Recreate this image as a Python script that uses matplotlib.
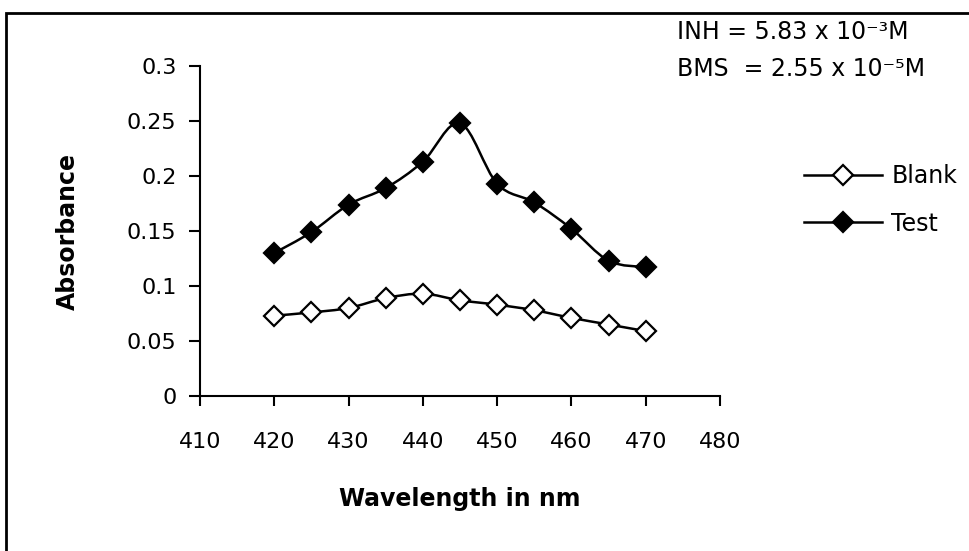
import numpy as np
import matplotlib
matplotlib.use('Agg')
import matplotlib.pyplot as plt
from matplotlib.path import Path
from matplotlib.patches import PathPatch, Rectangle
from matplotlib.lines import Line2D

# data
wavelength = [420, 425, 430, 435, 440, 445, 450, 455, 460, 465, 470]
blank = [0.073, 0.076, 0.080, 0.089, 0.093, 0.087, 0.083, 0.078, 0.071, 0.065, 0.059]
test = [0.130, 0.149, 0.174, 0.189, 0.213, 0.248, 0.193, 0.176, 0.152, 0.123, 0.117]
x_ticks = [410, 420, 430, 440, 450, 460, 470, 480]
y_ticks = [0, 0.05, 0.1, 0.15, 0.2, 0.25, 0.3]
y_labels = ['0', '0.05', '0.1', '0.15', '0.2', '0.25', '0.3']


def smooth_path(xs, ys, tension=1 / 6):
    # Excel-like smoothed line: cubic bezier through the points
    pts = np.column_stack([xs, ys]).astype(float)
    verts = [pts[0]]
    codes = [Path.MOVETO]
    n = len(pts)
    for i in range(n - 1):
        p0 = pts[i - 1] if i > 0 else pts[i]
        p1 = pts[i]
        p2 = pts[i + 1]
        p3 = pts[i + 2] if i + 2 < n else pts[i + 1]
        c1 = p1 + (p2 - p0) * tension
        c2 = p2 - (p3 - p1) * tension
        verts += [c1, c2, p2]
        codes += [Path.CURVE4] * 3
    return Path(verts, codes)


plt.rcParams['font.family'] = ['DejaVu Sans']
fig = plt.figure(figsize=(9.69, 5.51), dpi=100)
ax = fig.add_axes([200 / 969, 1 - 396 / 551, 520 / 969, 330 / 551])

for ys, face in [(blank, 'white'), (test, 'black')]:
    ax.add_patch(PathPatch(smooth_path(wavelength, ys), facecolor='none',
                           edgecolor='black', lw=1.8, zorder=2))
    ax.plot(wavelength, ys, ls='none', marker='D', markersize=10,
            markerfacecolor=face, markeredgecolor='black', markeredgewidth=1.6, zorder=3)

ax.set_xlim(410, 480)
ax.set_ylim(0, 0.3)
ax.set_xticks(x_ticks)
ax.set_yticks(y_ticks)
ax.set_yticklabels(y_labels)
ax.spines['top'].set_visible(False)
ax.spines['right'].set_visible(False)
ax.spines['left'].set_linewidth(1.5)
ax.spines['bottom'].set_linewidth(1.5)
ax.tick_params(axis='y', direction='out', length=8, width=1.5, labelsize=16, pad=9)
ax.tick_params(axis='x', direction='out', length=7, width=1.5, labelsize=16, pad=19)
ax.set_xlabel('Wavelength in nm', fontsize=17, fontweight='bold', labelpad=25)
ax.set_ylabel('Absorbance', fontsize=17, fontweight='bold', labelpad=34)

handles = [Line2D([], [], color='black', lw=1.8, marker='D', markersize=10,
                  markerfacecolor='white', markeredgecolor='black', markeredgewidth=1.6),
           Line2D([], [], color='black', lw=1.8, marker='D', markersize=10,
                  markerfacecolor='black', markeredgecolor='black', markeredgewidth=1.6)]
fig.legend(handles, ['Blank', 'Test'], loc='upper left',
           bbox_to_anchor=(804 / 969, 1 - 164 / 551), frameon=False,
           fontsize=17, handlelength=3.3, handletextpad=0.4, labelspacing=1.0,
           borderpad=0, borderaxespad=0)

fig.text(677 / 969, 1 - 32 / 551, 'INH = 5.83 x 10\u207b\u00b3M', fontsize=17, va='center')
fig.text(677 / 969, 1 - 69 / 551, 'BMS  = 2.55 x 10\u207b\u2075M', fontsize=17, va='center')

fig.patches.append(Rectangle((6 / 969, -0.1), 1.2, 1.1 - 13 / 551, transform=fig.transFigure,
                             fill=False, edgecolor='black', lw=2))

fig.savefig('out.png', dpi=100)
